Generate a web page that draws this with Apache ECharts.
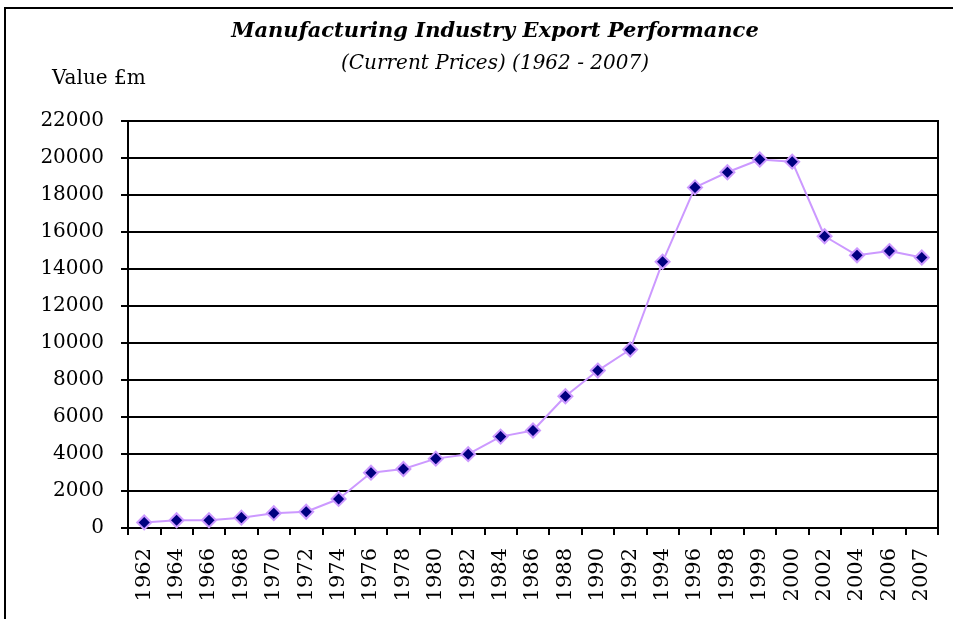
<!DOCTYPE html>
<html>
<head>
<meta charset="utf-8">
<script src="https://cdn.jsdelivr.net/npm/echarts@6/dist/echarts.min.js"></script>
<style>
html,body{margin:0;padding:0;background:#fff;}
#chart{width:953px;height:619px;}
</style>
</head>
<body>
<div id="chart"></div>
<script>
var years = ['1962','1964','1966','1968','1970','1972','1974','1976','1978','1980','1982','1984','1986','1988','1990','1992','1994','1996','1998','1999','2000','2002','2004','2006','2007'];
var exportValues = [300,420,420,560,800,880,1570,2990,3190,3750,3990,4940,5270,7120,8510,9650,14390,18410,19230,19920,19800,15770,14740,14970,14620];
var yTicks = {min:0, max:22000, interval:2000};
var titleText = 'Manufacturing Industry Export Performance';
var subtitleText = '(Current Prices) (1962 - 2007)';
var yAxisName = 'Value £m';

var FONT = 'DejaVu Serif';
var chart = echarts.init(document.getElementById('chart'), null, {renderer:'canvas'});
chart.setOption({
  backgroundColor:'#ffffff',
  animation:false,
  graphic:[
    {type:'rect', shape:{x:5,y:8,width:1000,height:700}, style:{fill:'none',stroke:'#000',lineWidth:2}, silent:true},
    {type:'text', x:495, y:32, style:{text:titleText, font:'italic bold 21px "'+FONT+'"', fill:'#000', textAlign:'center', textVerticalAlign:'middle'}},
    {type:'text', x:495, y:64, style:{text:subtitleText, font:'italic 20px "'+FONT+'"', fill:'#000', textAlign:'center', textVerticalAlign:'middle'}},
    {type:'text', x:52, y:79, style:{text:yAxisName, font:'20px "'+FONT+'"', fill:'#000', textAlign:'left', textVerticalAlign:'middle'}}
  ],
  grid:{left:128, right:15, top:121, bottom:91, show:true, borderColor:'#000', borderWidth:2, containLabel:false},
  xAxis:{
    type:'category', data:years, boundaryGap:true,
    axisLine:{lineStyle:{color:'#000',width:2}},
    axisTick:{show:true, length:7, lineStyle:{color:'#000',width:2}, alignWithLabel:false, interval:0},
    axisLabel:{rotate:90, interval:0, margin:20, color:'#000', fontFamily:FONT, fontSize:21},
    splitLine:{show:false}
  },
  yAxis:{
    type:'value', min:yTicks.min, max:yTicks.max, interval:yTicks.interval,
    axisLine:{show:true, lineStyle:{color:'#000',width:2}},
    axisTick:{show:true, length:7, lineStyle:{color:'#000',width:2}},
    axisLabel:{margin:24, color:'#000', fontFamily:FONT, fontSize:20, formatter:function(v){return String(v);}},
    splitLine:{show:true, lineStyle:{color:'#000',width:2}}
  },
  series:[{
    type:'line', data:exportValues,
    lineStyle:{color:'#CC99FF', width:2},
    symbol:'diamond', symbolSize:14,
    itemStyle:{color:'#000080', borderColor:'#CC99FF', borderWidth:2},
    emphasis:{disabled:true}
  }]
});
</script>
</body>
</html>
